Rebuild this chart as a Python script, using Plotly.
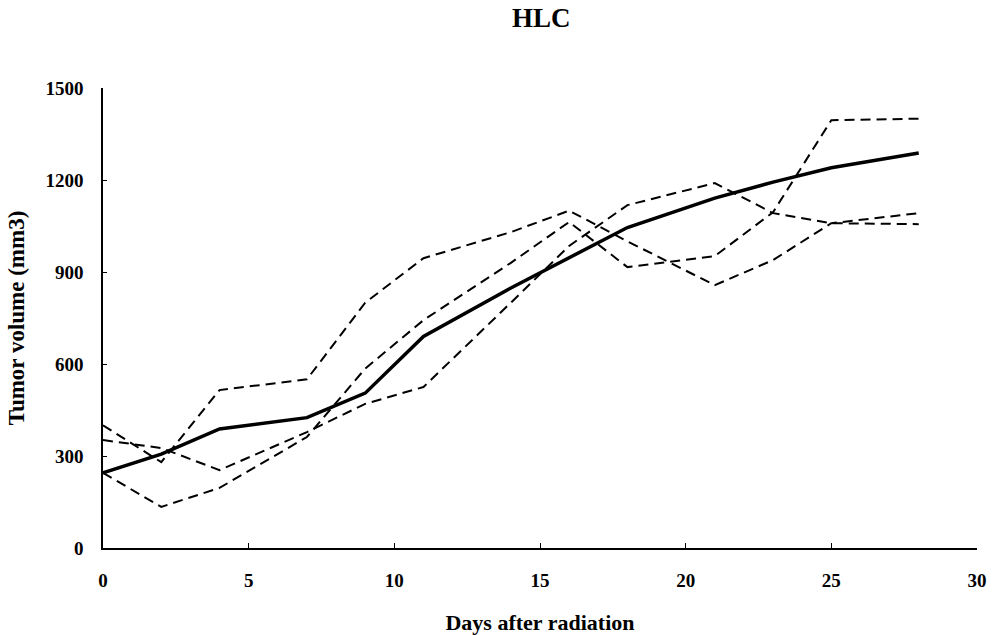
import plotly.graph_objects as go

days = [0, 2, 4, 7, 9, 11, 14, 16, 18, 21, 23, 25, 28]
mean_volume = [245, 306, 388, 425, 505, 690, 848, 945, 1045, 1141, 1193, 1240, 1288]
mouse_a = [400, 280, 515, 550, 800, 945, 1030, 1100, 1000, 857, 939, 1059, 1092]
mouse_b = [352, 326, 254, 378, 470, 525, 800, 985, 1118, 1190, 1092, 1059, 1056]
mouse_c = [245, 134, 196, 362, 585, 743, 930, 1063, 916, 952, 1095, 1395, 1400]

x_ticks = [0, 5, 10, 15, 20, 25, 30]
y_ticks = [0, 300, 600, 900, 1200, 1500]

serif = "Liberation Serif, Times New Roman, serif"

fig = go.Figure()
for ys in [mouse_a, mouse_b, mouse_c]:
    fig.add_trace(go.Scatter(x=days, y=ys, mode="lines",
                             line=dict(color="black", width=2, dash="10px,6px"),
                             showlegend=False))
fig.add_trace(go.Scatter(x=days, y=mean_volume, mode="lines",
                         line=dict(color="black", width=3.5),
                         showlegend=False))

fig.update_layout(
    width=993, height=635,
    margin=dict(l=103, r=16, t=88, b=87, autoexpand=False),
    paper_bgcolor="white", plot_bgcolor="white",
    title=dict(text="<b>HLC</b>", x=0.545, xanchor="center", y=0.988, yanchor="top",
               font=dict(family=serif, size=27, color="black")),
    font=dict(family=serif, color="black"),
)
fig.update_xaxes(range=[0, 30], tickvals=x_ticks,
                 ticktext=[f"<b>{t}</b>" for t in x_ticks],
                 showline=True, linecolor="black", linewidth=1.5,
                 ticks="inside", ticklen=5, tickcolor="black",
                 showgrid=False, zeroline=False, automargin=False,
                 ticklabelstandoff=14,
                 tickfont=dict(family=serif, size=19, color="black"),
                 title=dict(text="<b>Days after radiation</b>", standoff=30,
                            font=dict(family=serif, size=22, color="black")))
fig.update_yaxes(range=[0, 1500], tickvals=y_ticks,
                 ticktext=[f"<b>{t}</b>" for t in y_ticks],
                 showline=True, linecolor="black", linewidth=1.5,
                 ticks="inside", ticklen=4, tickcolor="black",
                 showgrid=False, zeroline=False, automargin=False,
                 ticklabelstandoff=14,
                 tickfont=dict(family=serif, size=19, color="black"),
                 title=dict(text="<b>Tumor volume (mm3)</b>", standoff=14,
                            font=dict(family=serif, size=23, color="black")))

fig.write_html("out.html")
